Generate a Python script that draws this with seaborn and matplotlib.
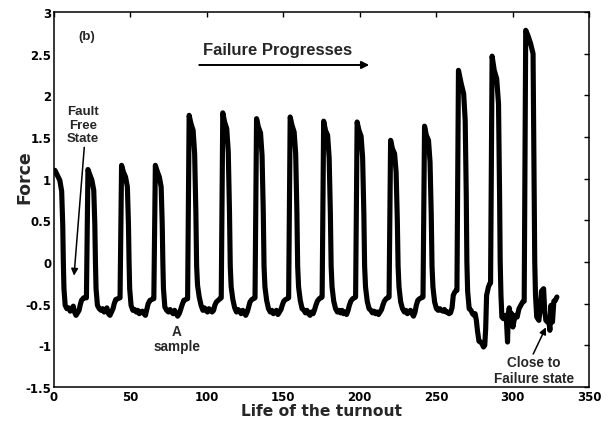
import matplotlib
matplotlib.use("Agg")
import matplotlib.pyplot as plt
import seaborn as sns
import pandas as pd

# ---- data (life of the turnout vs. force) ----
life = [
    # pulse 1
    0, 0.6, 2.2, 3.8, 5.0, 5.7, 6.1, 6.5, 7.3, 8.4, 9.6, 10.6, 11.6, 12.6, 13.4, 14.4, 15.4, 16.4, 17.2, 18.0, 19.4, 20.6,
    # pulse 2
    21.2, 22.2, 23.4, 24.8, 26.0, 26.7, 27.1, 27.5, 28.4, 29.6, 30.8, 31.8, 32.8, 33.8, 34.6, 35.6, 36.6, 37.6, 38.6, 39.4, 40.4, 41.8, 42.9,
    # pulse 3
    43.2, 44.2, 45.4, 46.8, 48.0, 48.7, 49.1, 49.5, 50.4, 51.6, 52.8, 53.8, 54.8, 55.8, 56.8, 57.8, 58.8, 59.8, 60.6, 61.6, 62.8, 64.0, 65.0,
    # pulse 4
    65.3, 66.3, 67.5, 68.9, 70.1, 70.8, 71.2, 71.6, 72.5, 73.7, 74.9, 75.9, 76.9, 77.9, 78.9, 79.9, 80.9, 81.9, 82.7, 83.7, 84.9, 86.1, 87.1,
    # pulse 5
    87.4, 88.4, 89.6, 91.0, 92.0, 92.8, 93.3, 93.9, 95.0, 96.2, 97.4, 98.4, 99.4, 100.4, 101.4, 102.4, 103.4, 104.4, 105.2, 106.2, 107.4, 108.5, 109.2,
    # pulse 6
    109.4, 110.4, 111.6, 113.0, 114.0, 114.8, 115.3, 115.9, 117.0, 118.2, 119.4, 120.4, 121.4, 122.4, 123.4, 124.4, 125.4, 126.4, 127.2, 128.2, 129.4, 130.5, 131.2,
    # pulse 7
    131.5, 132.5, 133.7, 135.1, 136.1, 136.9, 137.4, 138.0, 139.1, 140.3, 141.5, 142.5, 143.5, 144.5, 145.5, 146.5, 147.5, 148.5, 149.3, 150.3, 151.5, 152.6, 153.2,
    # pulse 8
    153.5, 154.5, 155.7, 157.1, 158.1, 158.9, 159.4, 160.0, 161.1, 162.3, 163.5, 164.5, 165.5, 166.5, 167.5, 168.5, 169.5, 170.5, 171.3, 172.3, 173.5, 174.6, 175.2,
    # pulse 9
    175.4, 176.4, 177.6, 179.0, 180.0, 180.8, 181.3, 181.9, 183.0, 184.2, 185.4, 186.4, 187.4, 188.4, 189.4, 190.4, 191.4, 192.4, 193.2, 194.2, 195.4, 196.5, 197.1,
    # pulse 10
    197.3, 198.3, 199.5, 200.9, 201.9, 202.7, 203.2, 203.8, 204.9, 206.1, 207.3, 208.3, 209.3, 210.3, 211.3, 212.3, 213.3, 214.3, 215.1, 216.1, 217.3, 218.4, 219.0,
    # pulse 11
    219.2, 220.2, 221.4, 222.8, 223.8, 224.6, 225.1, 225.7, 226.8, 228.0, 229.2, 230.2, 231.2, 232.2, 233.2, 234.2, 235.2, 236.2, 237.0, 238.0, 239.2, 240.3, 240.9,
    # pulse 12
    241.4, 242.4, 243.6, 245.0, 246.0, 246.8, 247.3, 247.9, 249.0, 250.2, 251.4, 252.4, 253.4, 254.4, 255.4, 256.4, 257.4, 258.4, 259.4, 260.4, 261.2, 262.2, 263.2,
    # pulse 13
    263.6, 264.6, 266.4, 268.0, 269.0, 269.7, 270.1, 270.6, 271.6, 272.8, 273.8, 274.8, 275.5, 276.3, 277.0, 278.0, 279.0, 280.0, 281.0, 281.8, 282.4, 283.0, 284.2, 285.3,
    # pulse 14
    285.6, 286.6, 288.0, 289.6, 290.8, 291.5, 291.9, 292.4, 293.0, 294.0, 295.0, 296.0, 296.7, 297.2, 297.8, 298.6, 299.4, 300.2, 301.0, 302.0, 303.0, 304.2, 305.4, 306.6, 307.3,
    # pulse 15 (close to failure)
    307.6, 308.6, 310.0, 311.8, 313.4, 314.1, 314.5, 315.0, 315.8, 317.2, 318.2, 318.9, 320.3, 321.0, 321.8, 322.8, 323.6, 324.4, 325.1, 326.1, 327.0, 328.0, 329.0,
]

force = [
    1.08, 1.10, 1.04, 0.98, 0.85, 0.45, 0.0, -0.32, -0.52, -0.56, -0.55, -0.59, -0.57, -0.53, -0.60, -0.64, -0.61, -0.58, -0.51, -0.46, -0.43, -0.43,
    -0.43, 1.11, 1.05, 0.98, 0.86, 0.45, 0.0, -0.32, -0.52, -0.56, -0.58, -0.56, -0.60, -0.58, -0.55, -0.62, -0.64, -0.60, -0.56, -0.50, -0.45, -0.44, -0.43,
    -0.43, 1.16, 1.08, 1.02, 0.90, 0.45, 0.0, -0.32, -0.52, -0.58, -0.57, -0.60, -0.58, -0.62, -0.60, -0.59, -0.62, -0.64, -0.58, -0.50, -0.46, -0.45, -0.44,
    -0.44, 1.16, 1.09, 1.02, 0.90, 0.45, 0.0, -0.32, -0.54, -0.58, -0.60, -0.57, -0.60, -0.62, -0.58, -0.62, -0.65, -0.62, -0.58, -0.52, -0.46, -0.45, -0.44,
    -0.44, 1.76, 1.66, 1.58, 1.30, 0.60, -0.05, -0.28, -0.42, -0.52, -0.58, -0.55, -0.58, -0.60, -0.56, -0.58, -0.60, -0.58, -0.52, -0.48, -0.46, -0.44, -0.43,
    -0.43, 1.79, 1.68, 1.60, 1.32, 0.60, -0.05, -0.30, -0.45, -0.55, -0.60, -0.57, -0.59, -0.62, -0.58, -0.60, -0.64, -0.60, -0.55, -0.48, -0.45, -0.44, -0.43,
    -0.43, 1.72, 1.62, 1.55, 1.28, 0.60, -0.05, -0.30, -0.46, -0.56, -0.60, -0.58, -0.62, -0.60, -0.58, -0.63, -0.60, -0.57, -0.52, -0.47, -0.45, -0.44, -0.43,
    -0.43, 1.74, 1.64, 1.56, 1.30, 0.60, -0.05, -0.30, -0.46, -0.56, -0.58, -0.61, -0.58, -0.62, -0.64, -0.60, -0.62, -0.57, -0.52, -0.47, -0.44, -0.43, -0.42,
    -0.42, 1.69, 1.58, 1.52, 1.25, 0.58, -0.05, -0.30, -0.47, -0.56, -0.60, -0.58, -0.61, -0.58, -0.62, -0.60, -0.63, -0.58, -0.52, -0.47, -0.44, -0.43, -0.42,
    -0.42, 1.68, 1.58, 1.51, 1.25, 0.58, -0.05, -0.30, -0.47, -0.56, -0.58, -0.61, -0.59, -0.62, -0.60, -0.63, -0.60, -0.57, -0.52, -0.47, -0.44, -0.43, -0.42,
    -0.42, 1.46, 1.36, 1.30, 1.08, 0.50, -0.05, -0.30, -0.48, -0.56, -0.60, -0.58, -0.62, -0.60, -0.58, -0.62, -0.65, -0.60, -0.52, -0.46, -0.44, -0.43, -0.42,
    -0.42, 1.63, 1.52, 1.46, 1.20, 0.56, -0.05, -0.30, -0.48, -0.56, -0.58, -0.56, -0.58, -0.59, -0.57, -0.60, -0.60, -0.62, -0.61, -0.55, -0.40, -0.36, -0.34,
    -0.34, 2.30, 2.14, 2.02, 1.70, 0.80, 0.0, -0.35, -0.56, -0.58, -0.62, -0.64, -0.62, -0.70, -0.82, -0.95, -0.96, -0.98, -1.02, -1.00, -0.80, -0.40, -0.30, -0.25,
    -0.25, 2.47, 2.30, 2.20, 1.90, 0.80, 0.0, -0.40, -0.66, -0.68, -0.64, -0.70, -0.96, -0.62, -0.55, -0.65, -0.62, -0.78, -0.70, -0.64, -0.66, -0.56, -0.52, -0.48, -0.47,
    -0.47, 2.78, 2.72, 2.62, 2.50, 1.00, 0.0, -0.40, -0.66, -0.70, -0.55, -0.35, -0.32, -0.58, -0.70, -0.72, -0.68, -0.82, -0.52, -0.72, -0.47, -0.46, -0.42,
]

x_ticks = [0, 50, 100, 150, 200, 250, 300, 350]
y_ticks = [-1.5, -1, -0.5, 0, 0.5, 1, 1.5, 2, 2.5, 3]
y_tick_labels = ["-1.5", "-1", "-0.5", "0", "0.5", "1", "1.5", "2", "2.5", "3"]

df = pd.DataFrame({"life": life, "force": force})

sns.set_theme(style="white")
plt.rcParams["font.family"] = ["DejaVu Sans"]

fig = plt.figure(figsize=(6.11, 4.27), dpi=100)
ax = fig.add_axes([0.0884, 0.0913, 0.964 - 0.0884, 0.9696 - 0.0913])

sns.lineplot(data=df, x="life", y="force", sort=False, estimator=None,
             color="black", linewidth=3.7, ax=ax)
for ln in ax.get_lines():
    ln.set_solid_joinstyle("round")
    ln.set_solid_capstyle("round")

ax.set_xlim(0, 350)
ax.set_ylim(-1.5, 3)
ax.set_xticks(x_ticks)
ax.set_xticklabels([str(t) for t in x_ticks])
ax.set_yticks(y_ticks)
ax.set_yticklabels(y_tick_labels)
ax.tick_params(direction="in", length=3.5, width=1.0, top=True, right=True,
               labelsize=8.5, pad=2, color="black", labelcolor="black")
for lab in ax.get_xticklabels() + ax.get_yticklabels():
    lab.set_fontweight("bold")
for sp in ax.spines.values():
    sp.set_visible(True)
    sp.set_color("black")
    sp.set_linewidth(1.1)

ax.set_xlabel("Life of the turnout", fontsize=11.2, fontweight="bold", labelpad=0)
ax.set_ylabel("Force", fontsize=12.5, fontweight="bold")
ax.yaxis.set_label_coords(-0.038, 0.561)

afont = ["Liberation Sans", "DejaVu Sans"]
ax.text(21.6, 2.712, "(b)", fontsize=9.5, fontweight="bold", family=afont,
        ha="center", va="center")
ax.text(146.5, 2.548, "Failure Progresses", fontsize=12, fontweight="bold",
        family=afont, ha="center", va="center")
ax.annotate("", xy=(206.2, 2.364), xytext=(95.0, 2.364),
            arrowprops=dict(arrowstyle="-|>", lw=1.4, color="black",
                            mutation_scale=11, shrinkA=0, shrinkB=0))
ax.text(19.0, 1.648, "Fault\nFree\nState", fontsize=9.5, fontweight="bold",
        family=afont, ha="center", va="center", linespacing=1.15)
ax.annotate("", xy=(13.1, -0.164), xytext=(19.8, 1.376),
            arrowprops=dict(arrowstyle="-|>", lw=1.1, color="black",
                            mutation_scale=10, shrinkA=0, shrinkB=0))
ax.text(80.2, -0.918, "A\nsample", fontsize=9.8, fontweight="bold",
        family=afont, ha="center", va="center", linespacing=1.1)
ax.text(313.9, -1.30, "Close to\nFailure state", fontsize=9.8, fontweight="bold",
        family=afont, ha="center", va="center", linespacing=1.2)
ax.annotate("", xy=(321.8, -0.784), xytext=(313.5, -1.104),
            arrowprops=dict(arrowstyle="-|>", lw=1.1, color="black",
                            mutation_scale=10, shrinkA=0, shrinkB=0))

fig.savefig("out.png", dpi=100)
